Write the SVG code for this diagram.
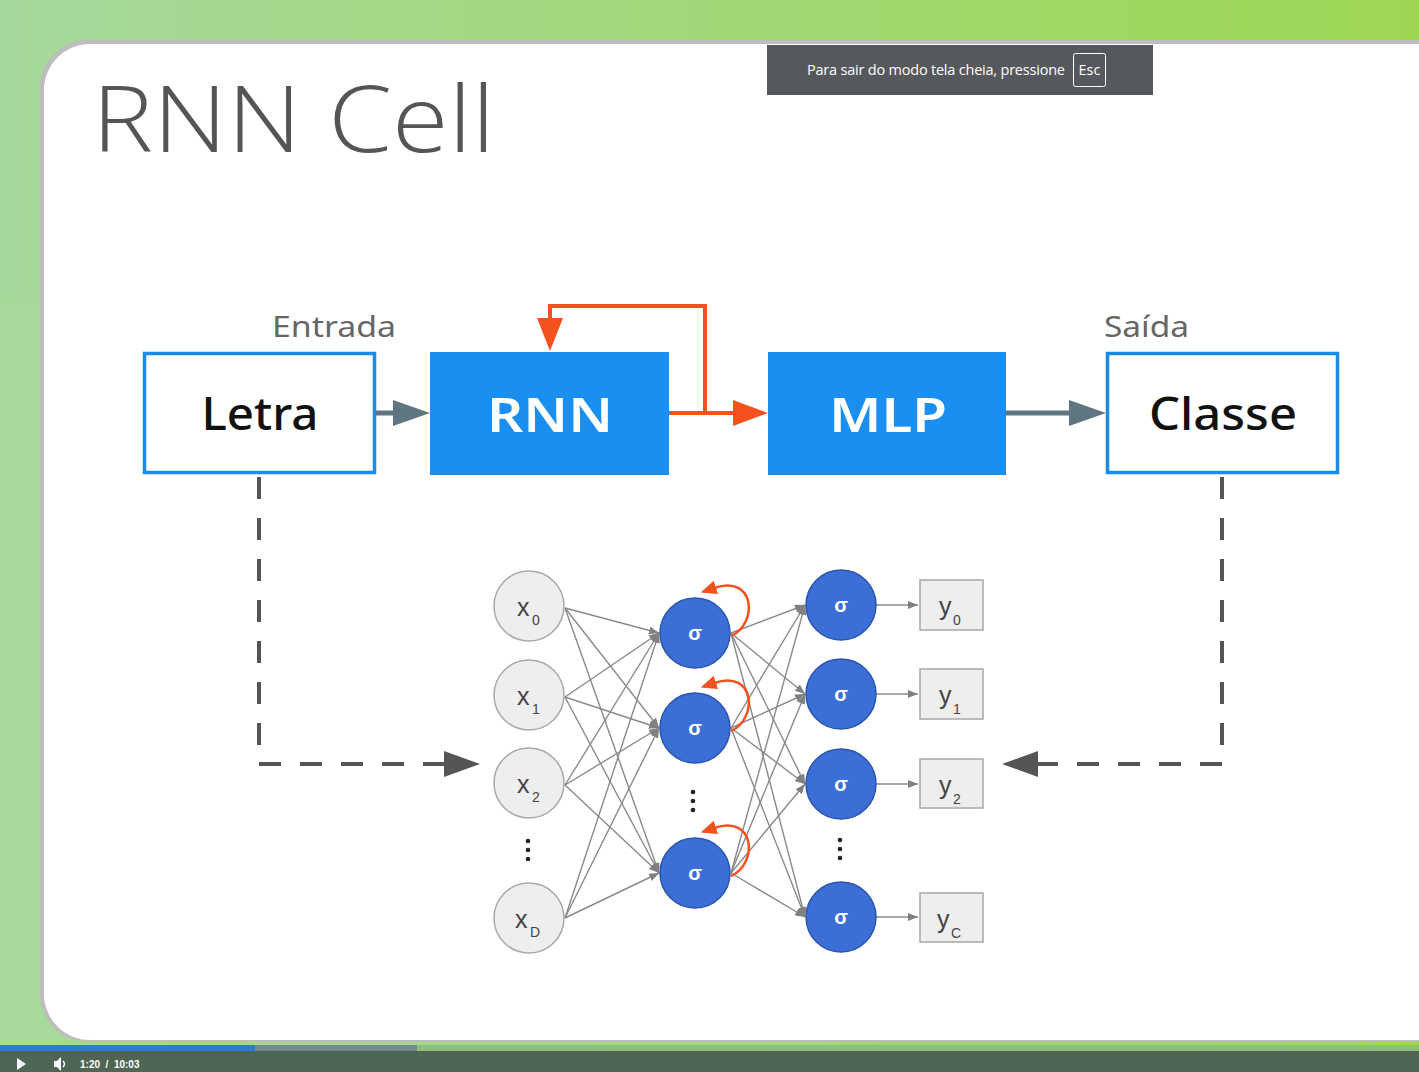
<svg xmlns="http://www.w3.org/2000/svg" width="1419" height="1072" viewBox="0 0 1419 1072">
<defs>
<linearGradient id="bg" x1="0" y1="0" x2="1" y2="0">
<stop offset="0" stop-color="#a6d99c"/><stop offset="1" stop-color="#9dd752"/>
</linearGradient>
<marker id="ga" viewBox="0 0 10 8" refX="10" refY="4" markerWidth="10" markerHeight="8" markerUnits="userSpaceOnUse" orient="auto"><path d="M0,0 L10,4 L0,8 z" fill="#808080"/></marker>
<marker id="oa" viewBox="0 0 16 14" refX="2" refY="7" markerWidth="16" markerHeight="14" markerUnits="userSpaceOnUse" orient="auto"><path d="M0,0 L16,7 L0,14 z" fill="#f4511e"/></marker>
<style>
.thin{stroke:#8a8a8a;stroke-width:1.4;fill:none;marker-end:url(#ga)}
.inp{fill:#eeeeee;stroke:#a8a8a8;stroke-width:1.5}
.hid{fill:#3b6fd6;stroke:#2a55ad;stroke-width:1.5}
.sig{font-family:"Liberation Sans",Arial,sans-serif;font-weight:bold;font-size:20px;fill:#fff;text-anchor:middle}
.lab{font-family:"Liberation Sans",Arial,sans-serif;font-size:25px;fill:#444}
.sub{font-family:"Liberation Sans",Arial,sans-serif;font-size:14px;fill:#444}
.ybox{fill:#eeeeee;stroke:#a8a8a8;stroke-width:1.5}
.loop{stroke:#f4511e;stroke-width:2.5;fill:none;marker-end:url(#oa)}
.dash{stroke:#555;stroke-width:4;fill:none;stroke-dasharray:22 19}
.big{font-family:"Noto Sans","Open Sans",sans-serif;font-size:46px;text-anchor:middle}
.cap{font-family:"Noto Sans","Open Sans",sans-serif;font-size:29px;fill:#666}
</style>
</defs>
<rect x="0" y="0" width="1419" height="1072" fill="url(#bg)"/>
<rect x="0" y="300" width="60" height="772" fill="#a6d99a"/>
<rect x="40" y="40" width="1440" height="1002" rx="48" fill="#bdbdbd"/>
<rect x="44" y="44" width="1440" height="996" rx="46" fill="#ffffff"/>
<rect x="0" y="1045" width="1419" height="6" fill="#8fbf80"/>
<rect x="0" y="1045" width="417" height="6" fill="#788890"/>
<rect x="0" y="1045" width="255" height="6" fill="#2b7bdb"/>
<rect x="0" y="1051" width="1419" height="21" fill="#4e6553"/>
<path d="M17,1058 L26,1064 L17,1070 z" fill="#fff"/>
<path d="M54,1061 L57,1061 L61,1057 L61,1071 L57,1067 L54,1067 z" fill="#fff"/>
<path d="M63,1061 Q66,1064 63,1067" stroke="#fff" stroke-width="1.5" fill="none"/>
<text x="80" y="1068" font-family="Liberation Sans,Arial,sans-serif" font-size="10" font-weight="bold" fill="#fff" xml:space="preserve">1:20  /  10:03</text>
<rect x="767" y="45" width="386" height="50" fill="#55585c"/>
<text x="807" y="75" font-family="'Open Sans','Noto Sans',sans-serif" font-size="14.5" fill="#fff" textLength="258">Para sair do modo tela cheia, pressione</text>
<rect x="1073.5" y="53.5" width="32" height="33" rx="2" fill="none" stroke="#fff" stroke-width="1"/>
<text x="1089.5" y="75" font-family="'Open Sans','Noto Sans',sans-serif" font-size="14.5" fill="#fff" text-anchor="middle">Esc</text>
<text x="92" y="152" font-family="'Open Sans','Noto Sans',sans-serif" font-weight="300" font-size="92" fill="#555" textLength="403" lengthAdjust="spacingAndGlyphs">RNN Cell</text>
<g id="connectors">
<line x1="376" y1="413" x2="400" y2="413" stroke="#5f7580" stroke-width="5"/>
<path d="M393,400 L430,413 L393,426 z" fill="#5f7580"/>
<line x1="1006" y1="413" x2="1075" y2="413" stroke="#5f7580" stroke-width="5"/>
<path d="M1069,400 L1106,413 L1069,426 z" fill="#5f7580"/>
<line x1="669" y1="413" x2="738" y2="413" stroke="#f4511e" stroke-width="4"/>
<path d="M733,400 L768,413 L733,426 z" fill="#f4511e"/>
<path d="M705,413 L705,306 L550,306 L550,325" stroke="#f4511e" stroke-width="4" fill="none"/>
<path d="M537,318 L563,318 L550,351 z" fill="#f4511e"/>
<path d="M259,477 L259,764 L446,764" class="dash"/>
<path d="M444,751 L480,764 L444,777 z" fill="#555"/>
<path d="M1222,477 L1222,764 L1038,764" class="dash"/>
<path d="M1038,751 L1002,764 L1038,777 z" fill="#555"/>
<line class="thin" x1="565" y1="608" x2="659" y2="633"/>
<line class="thin" x1="565" y1="608" x2="659" y2="728"/>
<line class="thin" x1="565" y1="608" x2="659" y2="873"/>
<line class="thin" x1="565" y1="697" x2="659" y2="633"/>
<line class="thin" x1="565" y1="697" x2="659" y2="728"/>
<line class="thin" x1="565" y1="697" x2="659" y2="873"/>
<line class="thin" x1="565" y1="785" x2="659" y2="633"/>
<line class="thin" x1="565" y1="785" x2="659" y2="728"/>
<line class="thin" x1="565" y1="785" x2="659" y2="873"/>
<line class="thin" x1="565" y1="918" x2="659" y2="633"/>
<line class="thin" x1="565" y1="918" x2="659" y2="728"/>
<line class="thin" x1="565" y1="918" x2="659" y2="873"/>
<line class="thin" x1="731" y1="633" x2="805" y2="605"/>
<line class="thin" x1="731" y1="633" x2="805" y2="694"/>
<line class="thin" x1="731" y1="633" x2="805" y2="784"/>
<line class="thin" x1="731" y1="633" x2="805" y2="917"/>
<line class="thin" x1="731" y1="728" x2="805" y2="605"/>
<line class="thin" x1="731" y1="728" x2="805" y2="694"/>
<line class="thin" x1="731" y1="728" x2="805" y2="784"/>
<line class="thin" x1="731" y1="728" x2="805" y2="917"/>
<line class="thin" x1="731" y1="873" x2="805" y2="605"/>
<line class="thin" x1="731" y1="873" x2="805" y2="694"/>
<line class="thin" x1="731" y1="873" x2="805" y2="784"/>
<line class="thin" x1="731" y1="873" x2="805" y2="917"/>
<line class="thin" x1="876" y1="605" x2="918" y2="605"/>
<line class="thin" x1="876" y1="694" x2="918" y2="694"/>
<line class="thin" x1="876" y1="784" x2="918" y2="784"/>
<line class="thin" x1="876" y1="917" x2="918" y2="917"/>
<path class="loop" d="M731,636 C758,624 756,574 714,588"/>
<path class="loop" d="M731,731 C758,719 756,669 714,683"/>
<path class="loop" d="M731,876 C758,864 756,814 714,828"/>
</g>
<g id="node-letra"><rect x="144.5" y="353.5" width="230" height="119" fill="#fff" stroke="#1a8ce8" stroke-width="3.5"/><text class="big" x="260" y="430" fill="#111" font-weight="500" textLength="117" lengthAdjust="spacingAndGlyphs">Letra</text></g>
<g id="node-rnn"><rect x="430" y="352" width="239" height="123" fill="#1a8ff0"/><text class="big" x="550" y="432" fill="#fff" font-weight="600" font-size="48" textLength="126" lengthAdjust="spacingAndGlyphs">RNN</text></g>
<g id="node-mlp"><rect x="768" y="352" width="238" height="123" fill="#1a8ff0"/><text class="big" x="888" y="432" fill="#fff" font-weight="600" font-size="48" textLength="118" lengthAdjust="spacingAndGlyphs">MLP</text></g>
<g id="node-classe"><rect x="1107.5" y="353.5" width="230" height="119" fill="#fff" stroke="#1a8ce8" stroke-width="3.5"/><text class="big" x="1223" y="430" fill="#111" font-weight="500" textLength="148" lengthAdjust="spacingAndGlyphs">Classe</text></g>
<g id="label-entrada"><text class="cap" x="272" y="337" textLength="124" lengthAdjust="spacingAndGlyphs">Entrada</text></g>
<g id="label-saida"><text class="cap" x="1104" y="337" textLength="85" lengthAdjust="spacingAndGlyphs">Saída</text></g>
<g id="node-x0"><circle class="inp" cx="529" cy="606" r="35"/><text class="lab" x="517" y="616">x</text><text class="sub" x="532" y="625">0</text></g>
<g id="node-x1"><circle class="inp" cx="529" cy="695" r="35"/><text class="lab" x="517" y="705">x</text><text class="sub" x="532" y="714">1</text></g>
<g id="node-x2"><circle class="inp" cx="529" cy="783" r="35"/><text class="lab" x="517" y="793">x</text><text class="sub" x="532" y="802">2</text></g>
<g id="dots-x"><circle cx="528" cy="841" r="2.3" fill="#222"/><circle cx="528" cy="850" r="2.3" fill="#222"/><circle cx="528" cy="859" r="2.3" fill="#222"/></g>
<g id="node-xD"><circle class="inp" cx="529" cy="918" r="35"/><text class="lab" x="515" y="928">x</text><text class="sub" x="530" y="937">D</text></g>
<g id="node-h0"><circle class="hid" cx="695" cy="633" r="35"/><text class="sig" x="695" y="640">σ</text></g>
<g id="node-h1"><circle class="hid" cx="695" cy="728" r="35"/><text class="sig" x="695" y="735">σ</text></g>
<g id="dots-h"><circle cx="693" cy="792" r="2.3" fill="#222"/><circle cx="693" cy="801" r="2.3" fill="#222"/><circle cx="693" cy="810" r="2.3" fill="#222"/></g>
<g id="node-h2"><circle class="hid" cx="695" cy="873" r="35"/><text class="sig" x="695" y="880">σ</text></g>
<g id="node-o0"><circle class="hid" cx="841" cy="605" r="35"/><text class="sig" x="841" y="612">σ</text></g>
<g id="node-o1"><circle class="hid" cx="841" cy="694" r="35"/><text class="sig" x="841" y="701">σ</text></g>
<g id="node-o2"><circle class="hid" cx="841" cy="784" r="35"/><text class="sig" x="841" y="791">σ</text></g>
<g id="dots-o"><circle cx="840" cy="840" r="2.3" fill="#222"/><circle cx="840" cy="849" r="2.3" fill="#222"/><circle cx="840" cy="858" r="2.3" fill="#222"/></g>
<g id="node-o3"><circle class="hid" cx="841" cy="917" r="35"/><text class="sig" x="841" y="924">σ</text></g>
<g id="node-y0"><rect class="ybox" x="920" y="580" width="63" height="50"/><text class="lab" x="939" y="615">y</text><text class="sub" x="953" y="625">0</text></g>
<g id="node-y1"><rect class="ybox" x="920" y="669" width="63" height="50"/><text class="lab" x="939" y="704">y</text><text class="sub" x="953" y="714">1</text></g>
<g id="node-y2"><rect class="ybox" x="920" y="759" width="63" height="49"/><text class="lab" x="939" y="794">y</text><text class="sub" x="953" y="804">2</text></g>
<g id="node-yC"><rect class="ybox" x="920" y="893" width="63" height="49"/><text class="lab" x="937" y="928">y</text><text class="sub" x="951" y="938">C</text></g>
</svg>
